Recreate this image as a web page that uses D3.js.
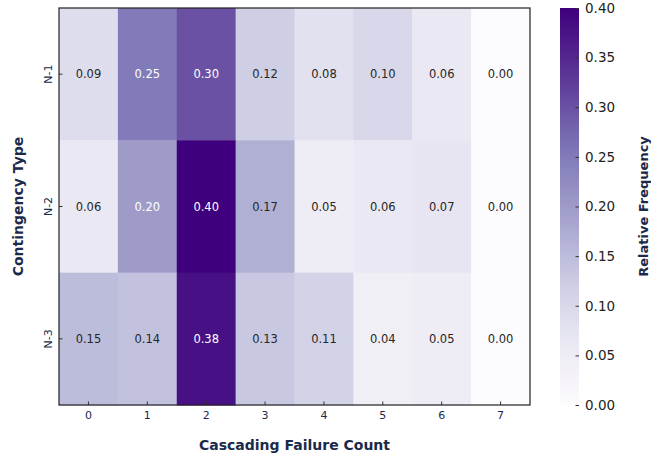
<!DOCTYPE html>
<html><head><meta charset="utf-8">
<script src="https://cdn.jsdelivr.net/npm/d3@7"></script>
<style>body{margin:0;background:#fff;font-family:"DejaVu Sans",sans-serif;}</style>
</head><body><svg id="c" width="651" height="455"></svg>
<script>
const rows = ["N-1","N-2","N-3"];
const cols = ["0","1","2","3","4","5","6","7"];
const valuesN1 = [0.09,0.25,0.30,0.12,0.08,0.10,0.06,0.00];
const valuesN2 = [0.06,0.20,0.40,0.17,0.05,0.06,0.07,0.00];
const valuesN3 = [0.15,0.14,0.38,0.13,0.11,0.04,0.05,0.00];
const cbTicks = [0,0.05,0.10,0.15,0.20,0.25,0.30,0.35,0.40];
const matrix = [valuesN1, valuesN2, valuesN3];

const svg = d3.select("#c");
const L=59,R=530,T=8,B=405;
const x = d3.scaleBand().domain(cols).range([L,R]);
const y = d3.scaleBand().domain(rows).range([T,B]);
const color = d3.scaleSequential(d3.interpolatePurples).domain([0,0.4]);
const navy = "#1b2a4a";

const cells = [];
matrix.forEach((r,i)=>r.forEach((v,j)=>cells.push({row:rows[i],col:cols[j],v})));
svg.append("g").selectAll("rect").data(cells).join("rect")
  .attr("x",d=>x(d.col)).attr("y",d=>y(d.row))
  .attr("width",x.bandwidth()+0.5).attr("height",y.bandwidth()+0.5)
  .attr("fill",d=>color(d.v));
svg.append("g").selectAll("text").data(cells).join("text")
  .attr("x",d=>x(d.col)+x.bandwidth()/2).attr("y",d=>y(d.row)+y.bandwidth()/2)
  .attr("dy","0.35em").attr("text-anchor","middle").attr("font-size",11.5)
  .attr("fill",d=>d.v>=0.2?"#ffffff":"#262626")
  .text(d=>d.v.toFixed(2));

svg.append("rect").attr("x",L).attr("y",T).attr("width",R-L).attr("height",B-T)
  .attr("fill","none").attr("stroke","#222").attr("stroke-width",1.2);

// x axis
const xa = svg.append("g").attr("transform",`translate(0,${B})`).call(d3.axisBottom(x).tickSizeInner(-3.5).tickSizeOuter(0).tickPadding(6));
xa.select(".domain").remove();
xa.selectAll("line").attr("stroke","#333");
xa.selectAll("text").attr("font-size",11).attr("fill",navy).attr("font-family","DejaVu Sans");
// y axis
const ya = svg.append("g").attr("transform",`translate(${L},0)`).call(d3.axisLeft(y).tickSizeInner(-3.5).tickSizeOuter(0).tickPadding(4));
ya.select(".domain").remove();
ya.selectAll("line").attr("stroke","#333");
ya.selectAll("text").attr("font-size",11).attr("fill",navy).attr("font-family","DejaVu Sans")
  .attr("text-anchor","middle").attr("x",0).attr("y",0).attr("dy","0.35em")
  .attr("transform","translate(-11,0) rotate(-90)");

svg.append("text").attr("x",(L+R)/2).attr("y",450).attr("text-anchor","middle")
  .attr("font-size",14).attr("font-weight","bold").attr("fill",navy).text("Cascading Failure Count");
svg.append("text").attr("transform",`translate(23,${(T+B)/2}) rotate(-90)`).attr("text-anchor","middle")
  .attr("font-size",14).attr("font-weight","bold").attr("fill",navy).text("Contingency Type");

// colorbar
const cbX=560,cbW=19;
const cy = d3.scaleLinear().domain([0,0.4]).range([B,T]);
const defs = svg.append("defs");
const grad = defs.append("linearGradient").attr("id","g").attr("x1",0).attr("y1",1).attr("x2",0).attr("y2",0);
d3.range(0,1.0001,0.05).forEach(t=>grad.append("stop").attr("offset",t).attr("stop-color",d3.interpolatePurples(t)));
svg.append("rect").attr("x",cbX).attr("y",T).attr("width",cbW).attr("height",B-T).attr("fill","url(#g)");
const ca = svg.append("g").attr("transform",`translate(${cbX+cbW},0)`).call(d3.axisRight(cy).tickValues(cbTicks).tickFormat(d3.format(".2f")).tickSizeInner(-3.5).tickSizeOuter(0).tickPadding(6));
ca.select(".domain").remove();
ca.selectAll("line").attr("stroke","#333");
ca.selectAll("text").attr("font-size",13.5).attr("fill","#222").attr("font-family","DejaVu Sans");
svg.append("text").attr("transform",`translate(648,${(T+B)/2}) rotate(-90)`).attr("text-anchor","middle")
  .attr("font-size",13).attr("font-weight","bold").attr("fill",navy).text("Relative Frequency");
</script></body></html>
